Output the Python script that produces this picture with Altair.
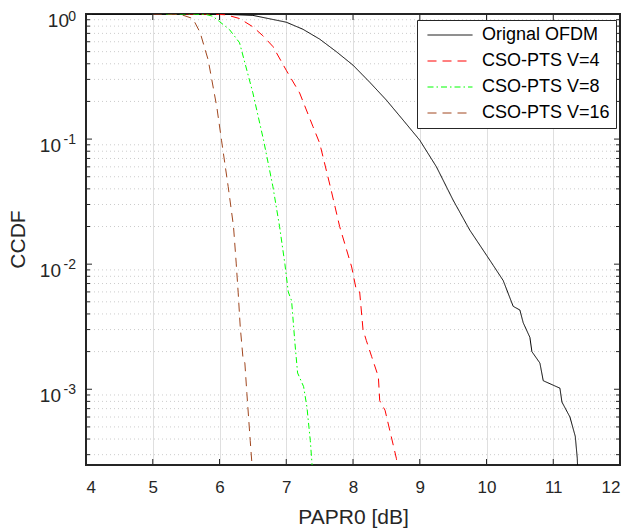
import altair as alt
import pandas as pd

# ---------------- data ----------------
series_names = ["Orignal OFDM", "CSO-PTS V=4", "CSO-PTS V=8", "CSO-PTS V=16"]

ofdm_x = [4.0, 5.5, 6.0, 6.5, 7.0, 7.25, 7.5, 7.75, 8.0, 8.25, 8.5, 8.75, 9.0, 9.25,
          9.5, 9.75, 10.0, 10.1, 10.25, 10.4, 10.5, 10.55, 10.65, 10.68, 10.8, 10.85,
          11.1, 11.13, 11.25, 11.33, 11.36, 11.37]
ofdm_y = [1.0, 1.0, 0.998, 0.975, 0.86, 0.755, 0.63, 0.50, 0.39, 0.285, 0.205, 0.142,
          0.098, 0.060, 0.0325, 0.0187, 0.0118, 0.0098, 0.0074, 0.0046, 0.0043, 0.0034,
          0.0026, 0.0020, 0.00162, 0.00117, 0.00102, 0.00079, 0.00060, 0.00042, 0.00028,
          0.0002]

v4_x = [5.5, 5.9, 6.1, 6.3, 6.5, 6.65, 6.8, 7.0, 7.2, 7.4, 7.5, 7.66, 7.8, 7.98, 8.05,
        8.1, 8.15, 8.2, 8.28, 8.38, 8.4, 8.48, 8.65, 8.68]
v4_y = [1.0, 0.998, 0.985, 0.92, 0.79, 0.67, 0.55, 0.355, 0.234, 0.126, 0.093, 0.0417,
        0.020, 0.0095, 0.0062, 0.0060, 0.0030, 0.00245, 0.00182, 0.00126, 0.00081,
        0.00068, 0.00028, 0.0002]

v8_x = [5.2, 5.6, 5.8, 5.9, 6.0, 6.15, 6.3, 6.5, 6.66, 6.8, 6.9, 6.98, 7.03, 7.08, 7.13,
        7.17, 7.26, 7.31, 7.36, 7.4]
v8_y = [1.0, 1.0, 0.99, 0.96, 0.87, 0.75, 0.59, 0.234, 0.098, 0.0417, 0.020, 0.0100,
        0.0060, 0.0051, 0.00234, 0.00135, 0.00105, 0.00072, 0.00039, 0.0002]

v16_x = [5.0, 5.41, 5.6, 5.71, 5.83, 5.96, 6.03, 6.13, 6.21, 6.25, 6.28, 6.31, 6.35,
         6.38, 6.41, 6.46, 6.5]
v16_y = [1.0, 0.995, 0.92, 0.71, 0.43, 0.18, 0.098, 0.0417, 0.020, 0.0102, 0.0059,
         0.0032, 0.00182, 0.00162, 0.00093, 0.00039, 0.0002]

colors = ["#000000", "#ff0000", "#00ff00", "#a0461e"]
dashes = [[1, 0], [9, 6], [6, 3, 1.5, 3], [9, 6]]

x_ticks = [4, 5, 6, 7, 8, 9, 10, 11, 12]
y_major = [0.001, 0.01, 0.1, 1.0]
y_exponents = ["-3", "-2", "-1", "0"]
y_minor = [k * 10.0 ** e for e in range(-4, 0) for k in range(2, 10) if k * 10.0 ** e >= 2.5e-4]

x_title = "PAPR0 [dB]"
y_title = "CCDF"

# ---------------- tables ----------------
rows = []
for name, xs, ys in zip(series_names, [ofdm_x, v4_x, v8_x, v16_x], [ofdm_y, v4_y, v8_y, v16_y]):
    for i, (xv, yv) in enumerate(zip(xs, ys)):
        rows.append({"series": name, "x": xv, "y": yv, "order": i})
df = pd.DataFrame(rows)

major_df = pd.DataFrame({"v": y_major, "exp": y_exponents})
minor_df = pd.DataFrame({"v": y_minor})
xt_df = pd.DataFrame({"t": x_ticks})

W, H = 534, 451
FONT = "Liberation Sans"
AX = "#262626"

x_scale = alt.Scale(domain=[4, 12], nice=False, zero=False)
y_scale = alt.Scale(type="log", domain=[2.48e-4, 1], nice=False)

legend = alt.Legend(
    title=None, orient="none", legendX=331, legendY=6,
    symbolType="M-1,0H9", symbolSize=81, symbolStrokeWidth=1,
    labelFontSize=18, labelFont=FONT, labelColor="#000000", labelOffset=41,
    labelLimit=400, padding=6, rowPadding=8,
    strokeColor=AX, fillColor="#ffffff", cornerRadius=0,
)

# minor dotted grid
minor_grid = alt.Chart(minor_df).mark_rule(
    color="#cccccc", strokeDash=[1, 3], strokeWidth=1
).encode(
    y=alt.Y("v:Q", scale=y_scale, axis=None),
    x=alt.value(0), x2=alt.value(W),
)

frame = alt.Chart(xt_df).mark_rect(
    fillOpacity=0, stroke=AX, strokeWidth=1.5
).encode(x=alt.value(0), x2=alt.value(W), y=alt.value(0), y2=alt.value(H))

lines = alt.Chart(df).mark_line(strokeWidth=1, clip=True).encode(
    x=alt.X("x:Q", scale=x_scale, axis=alt.Axis(
        values=x_ticks, format="d", grid=True, gridColor="#dfdfdf", gridWidth=1,
        ticks=False, domain=False, labelFontSize=17, labelFont=FONT, labelColor=AX,
        labelPadding=14, title=x_title, titleFont=FONT, titleFontSize=21,
        titleFontWeight="normal", titleColor=AX, titleBaseline="alphabetic", titleY=58,
    )),
    y=alt.Y("y:Q", scale=y_scale, axis=alt.Axis(
        values=y_major, grid=True, gridColor="#dfdfdf", gridWidth=1,
        ticks=False, domain=False, labels=False, title=None,
    )),
    color=alt.Color("series:N", scale=alt.Scale(domain=series_names, range=colors),
                    sort=series_names, legend=legend),
    strokeDash=alt.StrokeDash("series:N", scale=alt.Scale(domain=series_names, range=dashes),
                              sort=series_names, legend=legend),
    order="order:Q",
)

# inward ticks
tick_col = AX
xt_bottom = alt.Chart(xt_df).mark_rule(color=tick_col, strokeWidth=1).encode(
    x=alt.X("t:Q", scale=x_scale), y=alt.value(H), y2=alt.value(H - 6))
xt_top = alt.Chart(xt_df).mark_rule(color=tick_col, strokeWidth=1).encode(
    x=alt.X("t:Q", scale=x_scale), y=alt.value(0), y2=alt.value(6))
yt_left = alt.Chart(major_df).mark_rule(color=tick_col, strokeWidth=1).encode(
    y=alt.Y("v:Q", scale=y_scale), x=alt.value(0), x2=alt.value(6))
yt_right = alt.Chart(major_df).mark_rule(color=tick_col, strokeWidth=1).encode(
    y=alt.Y("v:Q", scale=y_scale), x=alt.value(W - 6), x2=alt.value(W))
ym_left = alt.Chart(minor_df).mark_rule(color=tick_col, strokeWidth=1).encode(
    y=alt.Y("v:Q", scale=y_scale), x=alt.value(0), x2=alt.value(4))
ym_right = alt.Chart(minor_df).mark_rule(color=tick_col, strokeWidth=1).encode(
    y=alt.Y("v:Q", scale=y_scale), x=alt.value(W - 4), x2=alt.value(W))

# y tick labels as 10^exp
base0 = alt.Chart(major_df).transform_filter("datum.v >= 1").mark_text(
    align="right", baseline="alphabetic", dy=13, fontSize=19, font=FONT, color=AX
).encode(y=alt.Y("v:Q", scale=y_scale), x=alt.value(-17), text=alt.value("10"))
baseN = alt.Chart(major_df).transform_filter("datum.v < 1").mark_text(
    align="right", baseline="alphabetic", dy=13, fontSize=19, font=FONT, color=AX
).encode(y=alt.Y("v:Q", scale=y_scale), x=alt.value(-25), text=alt.value("10"))
expo0 = alt.Chart(major_df).transform_filter("datum.v >= 1").mark_text(
    align="right", baseline="alphabetic", dy=7, fontSize=14, font=FONT, color=AX
).encode(y=alt.Y("v:Q", scale=y_scale), x=alt.value(-10), text="exp:N")
expoN = alt.Chart(major_df).transform_filter("datum.v < 1").mark_text(
    align="right", baseline="alphabetic", dy=4.5, fontSize=14, font=FONT, color=AX
).encode(y=alt.Y("v:Q", scale=y_scale), x=alt.value(-10), text="exp:N")

ytitle = alt.Chart(xt_df).transform_filter("datum.t == 4").mark_text(
    align="center", baseline="alphabetic", angle=270, fontSize=21, font=FONT, color=AX
).encode(x=alt.value(-61), y=alt.value(H / 2), text=alt.value(y_title))

chart = alt.layer(
    minor_grid, frame, lines, xt_bottom, xt_top, yt_left, yt_right, ym_left, ym_right,
    base0, baseN, expo0, expoN, ytitle,
).properties(
    width=W, height=H,
    autosize=alt.AutoSizeParams(type="none"),
    padding={"left": 78, "top": 6, "right": 4, "bottom": 65},
).configure_view(
    stroke=None,
).configure(background="#ffffff")

chart.save("out.html", embed_options={"renderer": "svg", "actions": False})
